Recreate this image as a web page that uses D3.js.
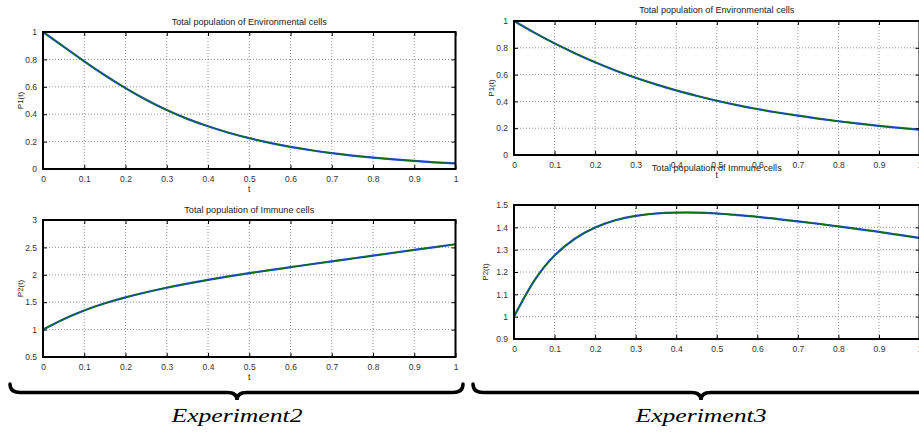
<!DOCTYPE html>
<html lang="en">
<head>
<meta charset="UTF-8">
<title>experiments</title>
<script src="https://cdn.jsdelivr.net/npm/d3@7"></script>
<style>
  body { margin: 0; background: #fff; }
  svg { display: block; font-family: "Liberation Sans", Arial, sans-serif; }
  .tick text { fill: #333; }
</style>
</head>
<body>
<div id="chart"></div>
<script>
var w = 919, h = 432;

// sample times (both experiments)
var times = [0, 0.05, 0.1, 0.15, 0.2, 0.25, 0.3, 0.35, 0.4, 0.45, 0.5,
             0.55, 0.6, 0.65, 0.7, 0.75, 0.8, 0.85, 0.9, 0.95, 1];

// Experiment 2
var exp2P1 = [1.0, 0.893, 0.786, 0.684, 0.59, 0.505, 0.43, 0.366, 0.312, 0.265, 0.225,
              0.191, 0.162, 0.137, 0.116, 0.098, 0.083, 0.07, 0.059, 0.049, 0.041];
var exp2P2 = [1.0, 1.19, 1.35, 1.48, 1.588, 1.681, 1.764, 1.839, 1.907, 1.97, 2.029,
              2.085, 2.139, 2.193, 2.246, 2.298, 2.35, 2.402, 2.454, 2.506, 2.558];

// Experiment 3
var exp3P1 = [1.0, 0.913, 0.833, 0.76, 0.692, 0.631, 0.576, 0.527, 0.482, 0.442, 0.405,
              0.372, 0.343, 0.317, 0.294, 0.272, 0.252, 0.234, 0.217, 0.202, 0.189];
var exp3P2 = [1.0, 1.161, 1.274, 1.349, 1.399, 1.432, 1.451, 1.462, 1.466, 1.466, 1.462,
              1.455, 1.447, 1.437, 1.427, 1.416, 1.404, 1.392, 1.38, 1.366, 1.352];

var xTicks = [0, 0.1, 0.2, 0.3, 0.4, 0.5, 0.6, 0.7, 0.8, 0.9, 1];
var yTicksP1 = [0, 0.2, 0.4, 0.6, 0.8, 1];
var yTicksP2a = [0.5, 1, 1.5, 2, 2.5, 3];
var yTicksP2b = [0.9, 1, 1.1, 1.2, 1.3, 1.4, 1.5];

var titleEnv = "Total population of Environmental cells";
var titleImm = "Total population of Immune cells";
var expLabels = ["Experiment2", "Experiment3"];

var svg = d3.select("#chart").append("svg")
  .attr("width", w).attr("height", h);
svg.append("rect").attr("width", w).attr("height", h).attr("fill", "#fff");

var panels = [
  {x0: 43, x1: 455.5, y0: 32, y1: 169, ys: exp2P1, ydom: [0, 1], yt: yTicksP1,
   title: titleEnv, titleY: 25, ylab: "P1(t)", ylabX: 20, tlab: true, tY: 192},
  {x0: 43, x1: 455.5, y0: 220, y1: 357, ys: exp2P2, ydom: [0.5, 3], yt: yTicksP2a,
   title: titleImm, titleY: 213, ylab: "P2(t)", ylabX: 20, tlab: true, tY: 380},
  {x0: 514, x1: 919.5, y0: 21, y1: 155, ys: exp3P1, ydom: [0, 1], yt: yTicksP1,
   title: titleEnv, titleY: 13, ylab: "P1(t)", ylabX: 491, tlab: true, tY: 178},
  {x0: 514, x1: 919.5, y0: 205, y1: 339, ys: exp3P2, ydom: [0.9, 1.5], yt: yTicksP2b,
   title: titleImm, titleY: 171, ylab: "P2(t)", ylabX: 485, tlab: false, tY: 0}
];

var fmt = function(d) { return d3.format("")(+d.toFixed(2)); };

panels.forEach(function(p) {
  var x = d3.scaleLinear().domain([0, 1]).range([p.x0, p.x1]);
  var y = d3.scaleLinear().domain(p.ydom).range([p.y1, p.y0]);
  var g = svg.append("g");

  // dotted grid
  g.selectAll(".gx").data(xTicks.slice(1, -1)).enter().append("line")
    .attr("x1", d => x(d)).attr("x2", d => x(d))
    .attr("y1", p.y0).attr("y2", p.y1)
    .attr("stroke", "#777").attr("stroke-width", 0.8).attr("stroke-dasharray", "1,2");
  g.selectAll(".gy").data(p.yt.slice(1, -1)).enter().append("line")
    .attr("y1", d => y(d)).attr("y2", d => y(d))
    .attr("x1", p.x0).attr("x2", p.x1)
    .attr("stroke", "#777").attr("stroke-width", 0.8).attr("stroke-dasharray", "1,2");

  // curve: blue under green, both series nearly identical
  var pts = times.map((t, i) => [t, p.ys[i]]);
  var line = d3.line().x(d => x(d[0])).y(d => y(d[1])).curve(d3.curveNatural);
  g.append("path").attr("d", line(pts)).attr("fill", "none")
    .attr("stroke", "#2a4cff").attr("stroke-width", 2.2);
  g.append("path").attr("d", line(pts)).attr("fill", "none")
    .attr("stroke", "#0a6a1a").attr("stroke-width", 1.3);

  // axes, ticks inward
  var bottom = d3.axisBottom(x).tickValues(xTicks).tickSize(-4).tickPadding(7).tickFormat(fmt);
  var top = d3.axisTop(x).tickValues(xTicks).tickSize(-4).tickFormat("");
  var left = d3.axisLeft(y).tickValues(p.yt).tickSize(-4).tickPadding(6).tickFormat(fmt);
  var right = d3.axisRight(y).tickValues(p.yt).tickSize(-4).tickFormat("");

  function style(sel) {
    sel.select(".domain").remove();
    sel.selectAll(".tick line").attr("stroke", "#000");
    sel.selectAll("text").attr("font-size", 8.5).attr("font-family", "Liberation Sans, Arial, sans-serif");
  }
  g.append("g").attr("transform", "translate(0," + p.y1 + ")").call(bottom).call(style);
  g.append("g").attr("transform", "translate(0," + p.y0 + ")").call(top).call(style);
  g.append("g").attr("transform", "translate(" + p.x0 + ",0)").call(left).call(style);
  g.append("g").attr("transform", "translate(" + p.x1 + ",0)").call(right).call(style);

  g.append("rect").attr("x", p.x0).attr("y", p.y0)
    .attr("width", p.x1 - p.x0).attr("height", p.y1 - p.y0)
    .attr("fill", "none").attr("stroke", "#000").attr("stroke-width", 2);

  var cx = (p.x0 + p.x1) / 2;
  g.append("text").attr("x", cx).attr("y", p.titleY).attr("text-anchor", "middle")
    .attr("font-size", 9.1).attr("fill", "#222").text(p.title);
  g.append("text")
    .attr("transform", "translate(" + p.ylabX + "," + ((p.y0 + p.y1) / 2) + ") rotate(-90)")
    .attr("text-anchor", "middle").attr("dy", "0.35em")
    .attr("font-size", 8).attr("fill", "#222").text(p.ylab);
  if (p.tlab) {
    g.append("text").attr("x", cx).attr("y", p.tY).attr("text-anchor", "middle")
      .attr("font-size", 8.5).attr("fill", "#222").text("t");
  }
});

// curly braces under each experiment
var braces = [{a: 10, m: 237, b: 463}, {a: 473, m: 701, b: 929}];
braces.forEach(function(b, i) {
  var yTop = 384, yBar = 392.5, yTip = 400, r = 10;
  var d = "M" + b.a + "," + yTop +
    " Q" + b.a + "," + yBar + " " + (b.a + r) + "," + yBar +
    " L" + (b.m - r) + "," + yBar +
    " Q" + b.m + "," + yBar + " " + b.m + "," + yTip +
    " Q" + b.m + "," + yBar + " " + (b.m + r) + "," + yBar +
    " L" + (b.b - r) + "," + yBar +
    " Q" + b.b + "," + yBar + " " + b.b + "," + yTop;
  svg.append("path").attr("d", d).attr("fill", "none")
    .attr("stroke", "#000").attr("stroke-width", 3.5).attr("stroke-linecap", "round");
  svg.append("text").attr("x", b.m).attr("y", 422).attr("text-anchor", "middle")
    .attr("font-family", "Liberation Serif, DejaVu Serif, serif")
    .attr("font-style", "italic").attr("font-size", 19)
    .attr("textLength", 131).attr("lengthAdjust", "spacingAndGlyphs")
    .text(expLabels[i]);
});
</script>
</body>
</html>
